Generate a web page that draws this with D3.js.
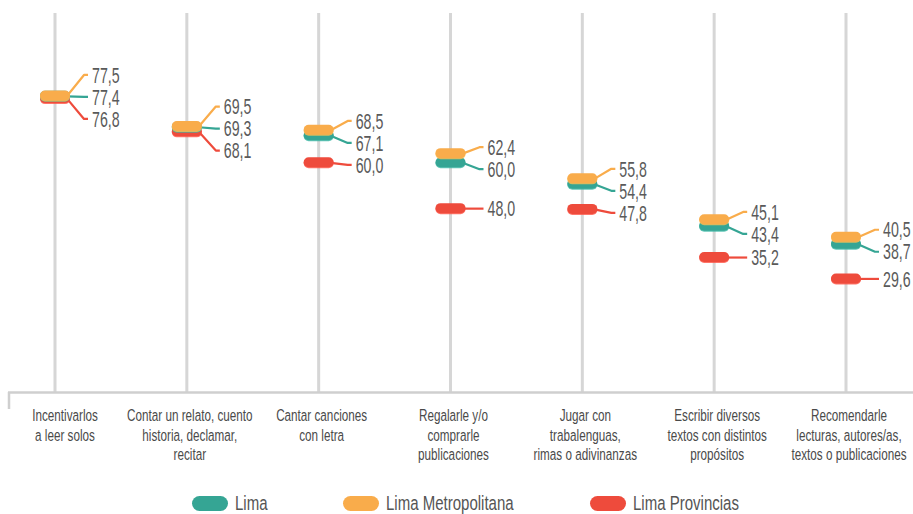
<!DOCTYPE html>
<html>
<head>
<meta charset="utf-8">
<script src="https://cdn.jsdelivr.net/npm/d3@7"></script>
<style>
  html, body { margin: 0; padding: 0; background: #fff; }
  svg { display: block; }
  text { font-family: "Liberation Sans", Arial, sans-serif; }
</style>
</head>
<body>
<svg id="chart" width="913" height="514"></svg>
<script>
const categories = [
  ["Incentivarlos", "a leer solos"],
  ["Contar un relato, cuento", "historia, declamar,", "recitar"],
  ["Cantar canciones", "con letra"],
  ["Regalarle y/o", "comprarle", "publicaciones"],
  ["Jugar con", "trabalenguas,", "rimas o adivinanzas"],
  ["Escribir diversos", "textos con distintos", "propósitos"],
  ["Recomendarle", "lecturas, autores/as,", "textos o publicaciones"]
];
const seriesNames = ["Lima", "Lima Metropolitana", "Lima Provincias"];
const lima = [77.4, 69.3, 67.1, 60.0, 54.4, 43.4, 38.7];
const limaMetropolitana = [77.5, 69.5, 68.5, 62.4, 55.8, 45.1, 40.5];
const limaProvincias = [76.8, 68.1, 60.0, 48.0, 47.8, 35.2, 29.6];
const colors = ["#35a594", "#f9ac4b", "#ee4b3c"];

const series = [
  { name: seriesNames[0], values: lima, color: colors[0] },
  { name: seriesNames[1], values: limaMetropolitana, color: colors[1] },
  { name: seriesNames[2], values: limaProvincias, color: colors[2] }
];

const svg = d3.select("#chart");
const idx = d3.range(categories.length);
const x = d3.scalePoint().domain(idx).range([55, 846]);
const y = d3.scaleLinear().domain([0, 100]).range([392, 10]);
const fmt = v => d3.format(".1f")(v).replace(".", ",");

// gridlines (category lines)
svg.append("g").selectAll("line").data(idx).join("line")
  .attr("x1", d => x(d)).attr("x2", d => x(d))
  .attr("y1", 13).attr("y2", y(0))
  .attr("stroke", "#d6d6d6").attr("stroke-width", 3);

// baseline axis
svg.append("line").attr("x1", 8).attr("x2", 913).attr("y1", y(0) + 0.5).attr("y2", y(0) + 0.5)
  .attr("stroke", "#cfcfcf").attr("stroke-width", 2.5);
svg.append("line").attr("x1", 9).attr("x2", 9).attr("y1", y(0)).attr("y2", 409)
  .attr("stroke", "#cfcfcf").attr("stroke-width", 2.5);

// category labels
const catG = svg.append("g");
idx.forEach(i => {
  categories[i].forEach((line, j) => {
    catG.append("text")
      .attr("transform", `translate(${x(i) + (i === 0 ? 10 : 3)},${421 + j * 19.5}) scale(0.71,1)`)
      .attr("text-anchor", "middle")
      .attr("font-size", 16.5)
      .attr("fill", "#4a4a4a")
      .text(line);
  });
});

// label positions (collision avoidance)
const gap = 22;
const labelPos = idx.map(i => {
  let items = series.map((s, k) => ({ k, py: y(s.values[i]), ly: y(s.values[i]) }));
  items.sort((a, b) => a.py - b.py);
  for (let iter = 0; iter < 50; iter++) {
    for (let m = 1; m < items.length; m++) {
      const d = items[m].ly - items[m - 1].ly;
      if (d < gap) {
        const o = (gap - d) / 2;
        items[m - 1].ly -= o;
        items[m].ly += o;
      }
    }
  }
  const res = [];
  items.forEach(it => res[it.k] = it.ly);
  return res;
});

const markG = svg.append("g");
// draw order: Provincias, Lima, Metropolitana
[2, 0, 1].forEach(k => {
  const s = series[k];
  const g = markG.append("g");
  idx.forEach(i => {
    const cx = x(i), py = y(s.values[i]), ly = labelPos[i][k];
    g.append("path")
      .attr("d", d3.line()([[cx + 12, py], [cx + 29, ly], [cx + 33, ly]]))
      .attr("fill", "none").attr("stroke", s.color).attr("stroke-width", 2.2)
      .attr("stroke-linejoin", "round");
    g.append("rect")
      .attr("x", cx - 15).attr("y", py - 4.5)
      .attr("width", 30).attr("height", 10).attr("rx", 5)
      .attr("fill", d3.color(s.color).brighter(0.3)).attr("opacity", 0.8);
    g.append("rect")
      .attr("x", cx - 15).attr("y", py - 5.5)
      .attr("width", 30).attr("height", 10).attr("rx", 5)
      .attr("fill", s.color);
    svg.append("text")
      .attr("transform", `translate(${cx + 37},${ly}) scale(0.66,1)`)
      .attr("dy", "0.36em")
      .attr("font-size", 21.5)
      .attr("fill", "#5a5a5a")
      .text(fmt(s.values[i]));
  });
});

// legend
const legendX = [192, 343, 590];
series.forEach((s, k) => {
  svg.append("rect")
    .attr("x", legendX[k]).attr("y", 496)
    .attr("width", 36).attr("height", 15).attr("rx", 7.5)
    .attr("fill", s.color);
  svg.append("text")
    .attr("transform", `translate(${legendX[k] + 43},${510}) scale(0.77,1)`)
    .attr("font-size", 19.5)
    .attr("fill", "#555")
    .text(s.name);
});
</script>
</body>
</html>
